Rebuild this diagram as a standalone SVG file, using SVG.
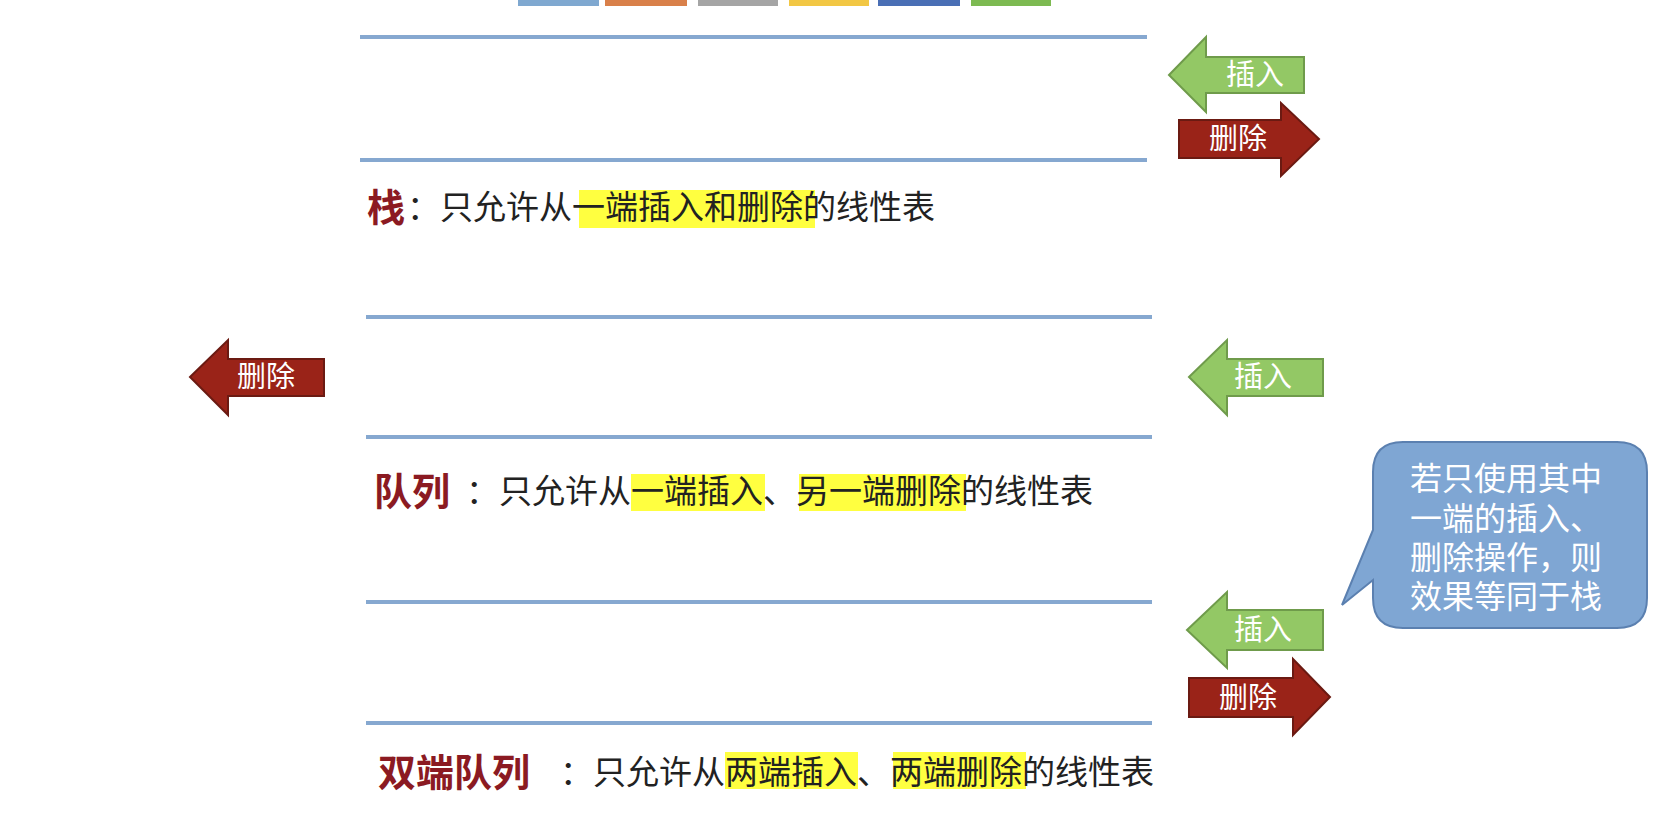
<svg xmlns="http://www.w3.org/2000/svg" width="1676" height="822" viewBox="0 0 1676 822">
<style>
.t{font-family:"Liberation Sans","Noto Sans CJK SC",sans-serif;font-size:33px;fill:#222}
.lab{font-family:"Noto Sans CJK SC",sans-serif;font-size:38px;font-weight:bold;fill:#8b1a22}
.at{font-family:"Liberation Sans","Noto Sans CJK SC",sans-serif;font-size:29px;fill:#fff}
.ins{fill:#93c865;stroke:#6f9b4b;stroke-width:2}
.del{fill:#9a2318;stroke:#6b1a12;stroke-width:2}
.ln{stroke:#86a8d0;stroke-width:4}
.hl{fill:#ffff40}
</style>
<rect width="1676" height="822" fill="#fff"/>
<g id="swatches">
<rect x="518" y="0" width="81" height="6" fill="#7fa8d0"/>
<rect x="605" y="0" width="82" height="6" fill="#d9804a"/>
<rect x="698" y="0" width="80" height="6" fill="#a5a5a5"/>
<rect x="789" y="0" width="80" height="6" fill="#f2c744"/>
<rect x="878" y="0" width="82" height="6" fill="#4a6fb5"/>
<rect x="971" y="0" width="80" height="6" fill="#7dba52"/>
</g>
<g id="lines">
<line class="ln" x1="360" y1="37" x2="1147" y2="37"/>
<line class="ln" x1="360" y1="160" x2="1147" y2="160"/>
<line class="ln" x1="366" y1="317" x2="1152" y2="317"/>
<line class="ln" x1="366" y1="437" x2="1152" y2="437"/>
<line class="ln" x1="366" y1="602" x2="1152" y2="602"/>
<line class="ln" x1="366" y1="723" x2="1152" y2="723"/>
</g>
<g id="stack-insert"><polygon class="ins" points="1169,75 1206,37 1206,57 1304,57 1304,93 1206,93 1206,112"/><text class="at" x="1255" y="85" text-anchor="middle">插入</text></g>
<g id="stack-delete"><polygon class="del" points="1179,120 1281,120 1281,103 1319,139 1281,176 1281,158 1179,158"/><text class="at" x="1238" y="149" text-anchor="middle">删除</text></g>
<g id="queue-delete"><polygon class="del" points="190,377 228,340 228,359 324,359 324,396 228,396 228,415"/><text class="at" x="266" y="387" text-anchor="middle">删除</text></g>
<g id="queue-insert"><polygon class="ins" points="1189,377 1227,340 1227,359 1323,359 1323,396 1227,396 1227,415"/><text class="at" x="1263" y="387" text-anchor="middle">插入</text></g>
<g id="deque-insert"><polygon class="ins" points="1187,630 1227,592 1227,610 1323,610 1323,650 1227,650 1227,668"/><text class="at" x="1263" y="640" text-anchor="middle">插入</text></g>
<g id="deque-delete"><polygon class="del" points="1189,678 1293,678 1293,659 1330,697 1293,735 1293,717 1189,717"/><text class="at" x="1248" y="708" text-anchor="middle">删除</text></g>
<g id="bubble">
<path d="M1403,442 H1617 Q1647,442 1647,472 V598 Q1647,628 1617,628 H1403 Q1373,628 1373,598 V580 L1342,605 L1373,530 V472 Q1373,442 1403,442 Z" fill="#7fa6d3" stroke="#5b80b0" stroke-width="2"/>
<g class="at" style="font-size:32px">
<text x="1410" y="490">若只使用其中</text>
<text x="1410" y="530">一端的插入、</text>
<text x="1410" y="569">删除操作，则</text>
<text x="1410" y="608">效果等同于栈</text>
</g>
</g>
<g id="stack-text">
<rect class="hl" x="579" y="190" width="236" height="38"/>
<text class="lab" x="367" y="221">栈</text>
<text class="t" x="407" y="219">：只允许从一端插入和删除的线性表</text>
</g>
<g id="queue-text">
<rect class="hl" x="631" y="474" width="134" height="37"/>
<rect class="hl" x="799" y="474" width="167" height="37"/>
<text class="lab" x="374" y="505">队列</text>
<text class="t" x="466" y="503">：只允许从一端插入、另一端删除的线性表</text>
</g>
<g id="deque-text">
<rect class="hl" x="725" y="752" width="133" height="37"/>
<rect class="hl" x="893" y="752" width="133" height="37"/>
<text class="lab" x="378" y="786">双端队列</text>
<text class="t" x="560" y="784">：只允许从两端插入、两端删除的线性表</text>
</g>
</svg>
